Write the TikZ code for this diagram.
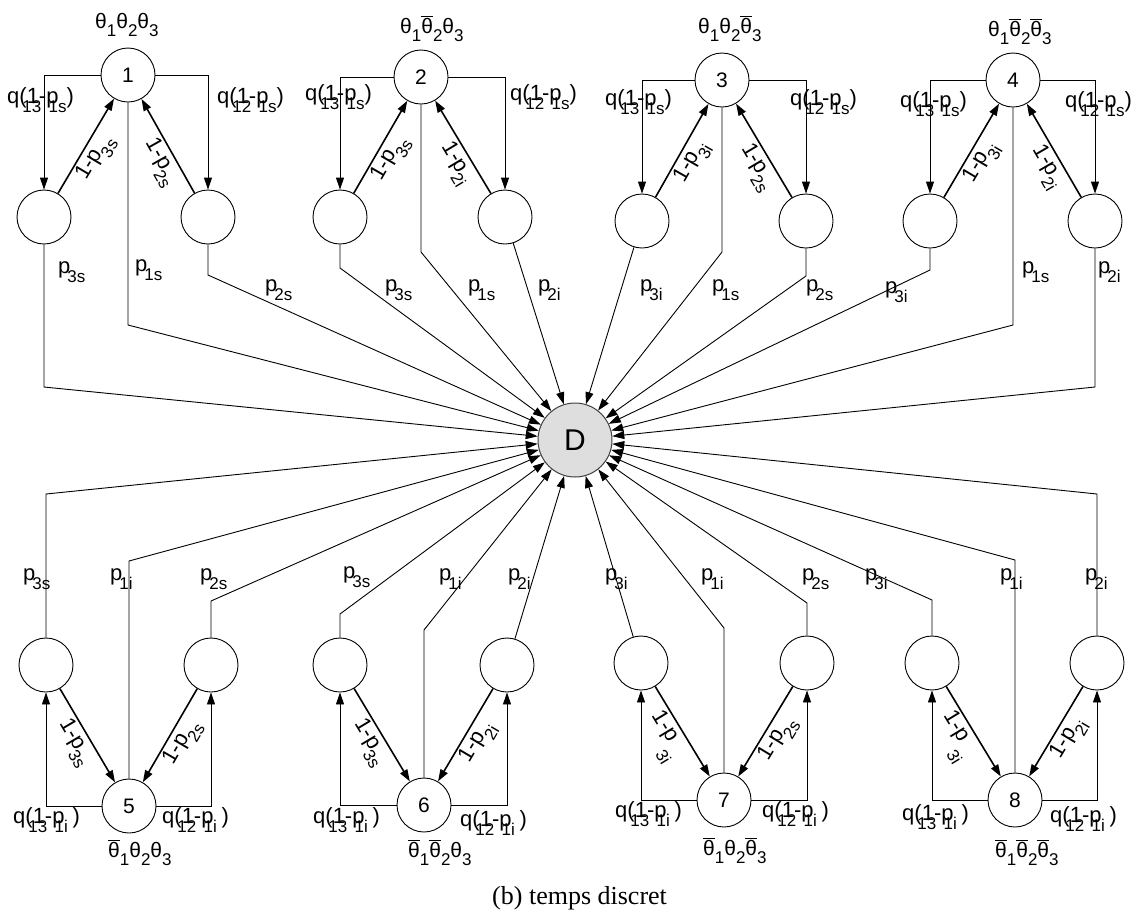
\documentclass[tikz,border=0pt]{standalone}
\usepackage{fontspec}
\setmainfont{Liberation Sans}
\newfontfamily\capfont{Liberation Serif}
\usetikzlibrary{arrows.meta}
\newcommand\sbs[1]{\raisebox{-0.42em}{\fontsize{17}{17}\selectfont #1}}
\newcommand\zsb[2]{\rlap{\kern#1\raisebox{-0.42em}{\fontsize{17}{17}\selectfont #2}}}
\newcommand\thn{θ}
\newcommand\thb{$\overline{\mbox{θ}}$}
\newcommand\qlab[2]{q\zsb{3pt}{#1}(1-p\zsb{-10pt}{#2}\hspace{8pt})}
\newcommand\plab[1]{p\kern-3pt\sbs{#1}}
\newcommand\olab[1]{1-p\kern-1pt\sbs{#1}}
\newcommand\olabw[1]{1-p\hspace{3pt}\raisebox{-0.8em}{\fontsize{17}{17}\selectfont #1}}
\begin{document}
\begin{tikzpicture}[x=1pt,y=-1pt,
  st/.style={circle,draw,line width=0.9pt,minimum size=54pt,inner sep=0pt,font=\fontsize{21}{21}\selectfont},
  dn/.style={circle,draw=black!75,fill=black!13,line width=1pt,minimum size=74pt,inner sep=0pt,font=\fontsize{30}{30}\selectfont},
  arr/.style={line width=0.9pt,-{Triangle[length=12pt,width=8pt]}},
  thk/.style={line width=1.6pt,-{Triangle[length=12pt,width=8pt]}},
  lbl/.style={inner sep=0pt,font=\fontsize{22}{26}\selectfont},
  thl/.style={inner sep=0pt,font=\fontsize{21}{25}\selectfont},
  olb/.style={inner sep=1pt,font=\fontsize{22}{26}\selectfont,sloped,below=1pt}]
\useasboundingbox (0,0) rectangle (1137,914);

% states
\node[dn] (D) at (575,440) {D};
\node[st] (m1) at (128,75) {1};
\node[st] (l1) at (44,217) {};
\node[st] (r1) at (208,217) {};
\node[st] (m2) at (421,77) {2};
\node[st] (l2) at (340,217) {};
\node[st] (r2) at (505,217) {};
\node[st] (m3) at (722,80) {3};
\node[st] (l3) at (642,221) {};
\node[st] (r3) at (806,221) {};
\node[st] (m4) at (1013,80) {4};
\node[st] (l4) at (930,221) {};
\node[st] (r4) at (1095,221) {};
\node[st] (m5) at (129,806) {5};
\node[st] (l5) at (46,665) {};
\node[st] (r5) at (211,665) {};
\node[st] (m6) at (424,805) {6};
\node[st] (l6) at (340,665) {};
\node[st] (r6) at (507,665) {};
\node[st] (m7) at (724,800) {7};
\node[st] (l7) at (641,663) {};
\node[st] (r7) at (807,663) {};
\node[st] (m8) at (1015,800) {8};
\node[st] (l8) at (932,663) {};
\node[st] (r8) at (1097,663) {};

% bend points
\coordinate (c1l) at (44,387);  \coordinate (c1m) at (128,325); \coordinate (c1r) at (208,275);
\coordinate (c2l) at (340,268); \coordinate (c2m) at (421,252);
\coordinate (c3m) at (722,252); \coordinate (c3r) at (806,276);
\coordinate (c4l) at (930,270); \coordinate (c4m) at (1013,325); \coordinate (c4r) at (1095,387);
\coordinate (c5l) at (46,494);  \coordinate (c5m) at (129,561); \coordinate (c5r) at (211,601);
\coordinate (c6l) at (340,614); \coordinate (c6m) at (424,630);
\coordinate (c7m) at (724,628); \coordinate (c7r) at (807,603);
\coordinate (c8l) at (932,600); \coordinate (c8m) at (1015,560); \coordinate (c8r) at (1097,494);

% edges to D
\draw[arr] (l1) -- (c1l) -- (D);
\draw[arr] (m1) -- (c1m) -- (D);
\draw[arr] (r1) -- (c1r) -- (D);
\draw[arr] (l2) -- (c2l) -- (D);
\draw[arr] (m2) -- (c2m) -- (D);
\draw[arr] (r2) -- (D);
\draw[arr] (l3) -- (D);
\draw[arr] (m3) -- (c3m) -- (D);
\draw[arr] (r3) -- (c3r) -- (D);
\draw[arr] (l4) -- (c4l) -- (D);
\draw[arr] (m4) -- (c4m) -- (D);
\draw[arr] (r4) -- (c4r) -- (D);
\draw[arr] (l5) -- (c5l) -- (D);
\draw[arr] (m5) -- (c5m) -- (D);
\draw[arr] (r5) -- (c5r) -- (D);
\draw[arr] (l6) -- (c6l) -- (D);
\draw[arr] (m6) -- (c6m) -- (D);
\draw[arr] (r6) -- (D);
\draw[arr] (l7) -- (D);
\draw[arr] (m7) -- (c7m) -- (D);
\draw[arr] (r7) -- (c7r) -- (D);
\draw[arr] (l8) -- (c8l) -- (D);
\draw[arr] (m8) -- (c8m) -- (D);
\draw[arr] (r8) -- (c8r) -- (D);

% main to children
\foreach \g in {1,2,3,4}{
  \draw[arr] (m\g.west) -| (l\g.north);
  \draw[arr] (m\g.east) -| (r\g.north);
}
\foreach \g in {5,6,7,8}{
  \draw[arr] (m\g.west) -| (l\g.south);
  \draw[arr] (m\g.east) -| (r\g.south);
}

% children back to main
\draw[thk] (l1) -- (m1) node[olb,pos=0.45] (o1l) {\olab{3s}};
\draw[thk] (r1) -- (m1) node[olb,pos=0.4] (o1r) {\olab{2s}};
\draw[thk] (l2) -- (m2) node[olb,pos=0.45] (o2l) {\olab{3s}};
\draw[thk] (r2) -- (m2) node[olb,pos=0.4] (o2r) {\olab{2i}};
\draw[thk] (l3) -- (m3) node[olb,pos=0.45] (o3l) {\olab{3i}};
\draw[thk] (r3) -- (m3) node[olb,pos=0.4] (o3r) {\olab{2s}};
\draw[thk] (l4) -- (m4) node[olb,pos=0.45] (o4l) {\olab{3i}};
\draw[thk] (r4) -- (m4) node[olb,pos=0.4] (o4r) {\olab{2i}};
\draw[thk] (l5) -- (m5) node[olb,pos=0.5] (o5l) {\olab{3s}};
\draw[thk] (r5) -- (m5) node[olb,pos=0.5] (o5r) {\olab{2s}};
\draw[thk] (l6) -- (m6) node[olb,pos=0.5] (o6l) {\olab{3s}};
\draw[thk] (r6) -- (m6) node[olb,pos=0.5] (o6r) {\olab{2i}};
\draw[thk] (l7) -- (m7) node[olb,pos=0.45] (o7l) {\olabw{3i}};
\draw[thk] (r7) -- (m7) node[olb,pos=0.5] (o7r) {\olab{2s}};
\draw[thk] (l8) -- (m8) node[olb,pos=0.45] (o8l) {\olabw{3i}};
\draw[thk] (r8) -- (m8) node[olb,pos=0.5] (o8r) {\olab{2i}};

% state names
\node[thl,anchor=base west] (t1) at (95,28) {\thn\sbs{1}\thn\sbs{2}\thn\sbs{3}};
\node[thl,anchor=base west] (t2) at (400,33) {\thn\sbs{1}\thb\sbs{2}\thn\sbs{3}};
\node[thl,anchor=base west] (t3) at (698,33) {\thn\sbs{1}\thn\sbs{2}\thb\sbs{3}};
\node[thl,anchor=base west] (t4) at (988,36) {\thn\sbs{1}\thb\sbs{2}\thb\sbs{3}};
\node[thl,anchor=base west] (t5) at (108,857) {\thb\sbs{1}\thn\sbs{2}\thn\sbs{3}};
\node[thl,anchor=base west] (t6) at (408,857) {\thb\sbs{1}\thb\sbs{2}\thn\sbs{3}};
\node[thl,anchor=base west] (t7) at (703,855) {\thb\sbs{1}\thn\sbs{2}\thb\sbs{3}};
\node[thl,anchor=base west] (t8) at (995,857) {\thb\sbs{1}\thb\sbs{2}\thb\sbs{3}};

% q labels
\node[lbl,anchor=base west] (q1a) at (7,103) {\qlab{13}{1s}};
\node[lbl,anchor=base west] (q1b) at (217,103) {\qlab{12}{1s}};
\node[lbl,anchor=base west] (q2a) at (305,100) {\qlab{13}{1s}};
\node[lbl,anchor=base west] (q2b) at (510,100) {\qlab{12}{1s}};
\node[lbl,anchor=base west] (q3a) at (605,105) {\qlab{13}{1s}};
\node[lbl,anchor=base west] (q3b) at (790,105) {\qlab{12}{1s}};
\node[lbl,anchor=base west] (q4a) at (900,107) {\qlab{13}{1s}};
\node[lbl,anchor=base west] (q4b) at (1065,107) {\qlab{12}{1s}};
\node[lbl,anchor=base west] (q5a) at (13,823) {\qlab{13}{1i}};
\node[lbl,anchor=base west] (q5b) at (162,823) {\qlab{12}{1i}};
\node[lbl,anchor=base west] (q6a) at (313,823) {\qlab{13}{1i}};
\node[lbl,anchor=base west] (q6b) at (460,826) {\qlab{12}{1i}};
\node[lbl,anchor=base west] (q7a) at (615,817) {\qlab{13}{1i}};
\node[lbl,anchor=base west] (q7b) at (762,817) {\qlab{12}{1i}};
\node[lbl,anchor=base west] (q8a) at (902,820) {\qlab{13}{1i}};
\node[lbl,anchor=base west] (q8b) at (1050,822) {\qlab{12}{1i}};

% p labels
\node[lbl,anchor=base west] (p1a) at (58,273) {\plab{3s}};
\node[lbl,anchor=base west] (p1b) at (135,271) {\plab{1s}};
\node[lbl,anchor=base west] (p1c) at (265,291) {\plab{2s}};
\node[lbl,anchor=base west] (p2a) at (385,291) {\plab{3s}};
\node[lbl,anchor=base west] (p2b) at (468,291) {\plab{1s}};
\node[lbl,anchor=base west] (p2c) at (538,291) {\plab{2i}};
\node[lbl,anchor=base west] (p3a) at (640,291) {\plab{3i}};
\node[lbl,anchor=base west] (p3b) at (712,291) {\plab{1s}};
\node[lbl,anchor=base west] (p3c) at (806,291) {\plab{2s}};
\node[lbl,anchor=base west] (p4a) at (885,293) {\plab{3i}};
\node[lbl,anchor=base west] (p4b) at (1022,273) {\plab{1s}};
\node[lbl,anchor=base west] (p4c) at (1098,273) {\plab{2i}};
\node[lbl,anchor=base west] (p5a) at (23,580) {\plab{3s}};
\node[lbl,anchor=base west] (p5b) at (110,580) {\plab{1i}};
\node[lbl,anchor=base west] (p5c) at (200,580) {\plab{2s}};
\node[lbl,anchor=base west] (p6a) at (343,578) {\plab{3s}};
\node[lbl,anchor=base west] (p6b) at (439,580) {\plab{1i}};
\node[lbl,anchor=base west] (p6c) at (508,580) {\plab{2i}};
\node[lbl,anchor=base west] (p7a) at (605,580) {\plab{3i}};
\node[lbl,anchor=base west] (p7b) at (701,580) {\plab{1i}};
\node[lbl,anchor=base west] (p7c) at (802,580) {\plab{2s}};
\node[lbl,anchor=base west] (p8a) at (865,580) {\plab{3i}};
\node[lbl,anchor=base west] (p8b) at (1000,580) {\plab{1i}};
\node[lbl,anchor=base west] (p8c) at (1085,580) {\plab{2i}};

% caption
\node[inner sep=0pt,anchor=base west,font=\capfont\fontsize{26}{26}\selectfont] (cap) at (492,904) {(b) temps discret};
\end{tikzpicture}
\end{document}
